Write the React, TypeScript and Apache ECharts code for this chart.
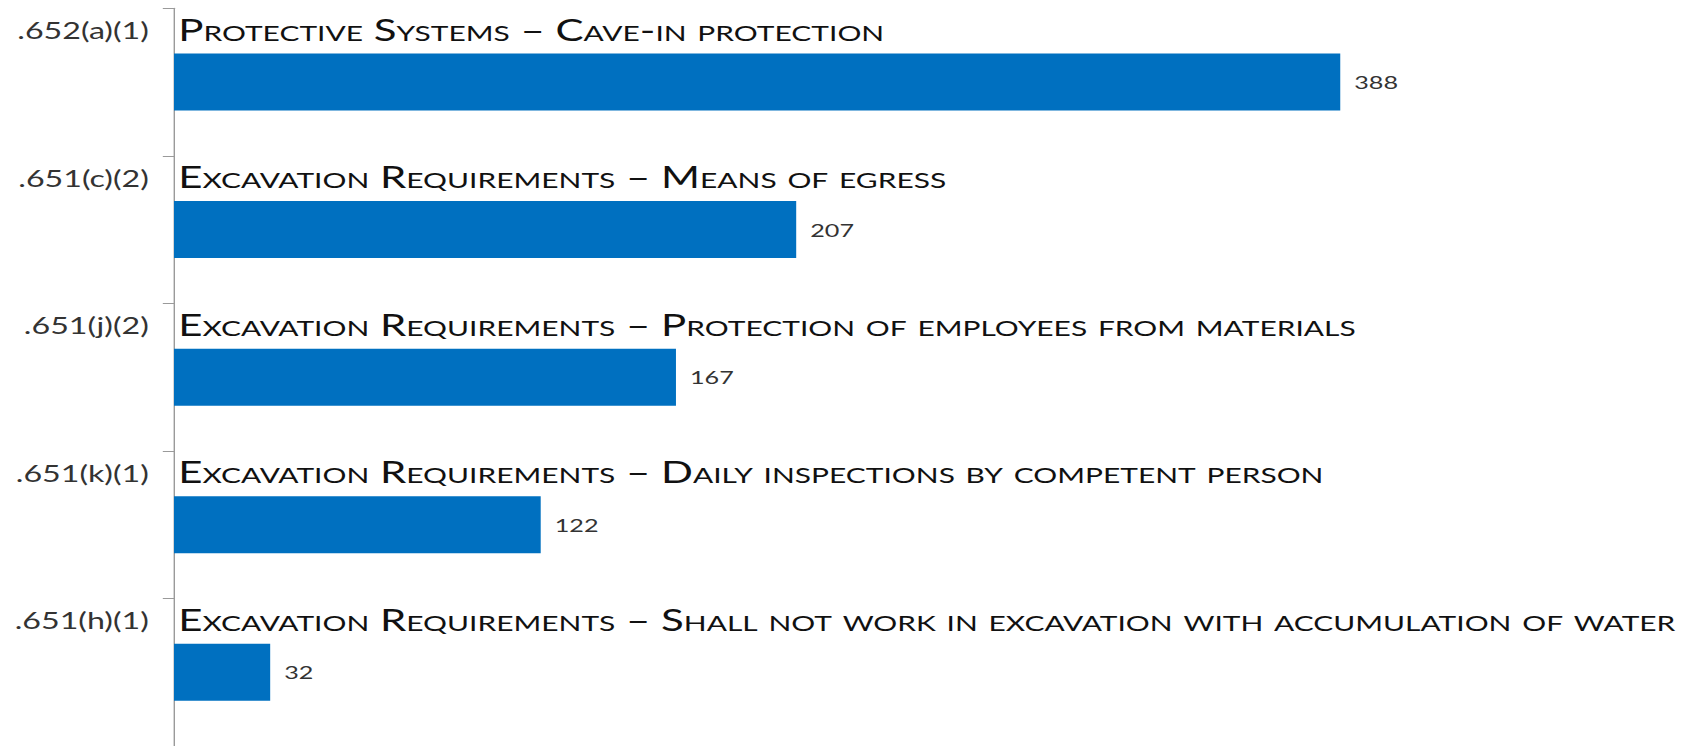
import React, { useEffect, useRef } from "react";
import * as echarts from "echarts";

const codes = [".652(a)(1)", ".651(c)(2)", ".651(j)(2)", ".651(k)(1)", ".651(h)(1)"];
const descriptions = [
  "Protective Systems \u2013 Cave-in protection",
  "Excavation Requirements \u2013 Means of egress",
  "Excavation Requirements \u2013 Protection of employees from materials",
  "Excavation Requirements \u2013 Daily inspections by competent person",
  "Excavation Requirements \u2013 Shall not work in excavation with accumulation of water",
];
const citations = [388, 207, 167, 122, 32];

const SX = 1.4;
const W = 1681 / SX;
const H = 746;

export default function App() {
  const ref = useRef<HTMLDivElement>(null);
  useEffect(() => {
    if (!ref.current) return;
    const chart = echarts.init(ref.current, undefined, { renderer: "svg" });
    const axisLeft = 174 / SX;
    const xMax = 500;
    const plotW = (xMax * 3.005) / SX;
    chart.setOption({
      animation: false,
      grid: { left: axisLeft, right: W - axisLeft - plotW, top: 8.3, bottom: -1.5, containLabel: false },
      xAxis: { type: "value", min: 0, max: xMax, show: false },
      yAxis: [
        {
          type: "category",
          data: codes,
          inverse: true,
          position: "left",
          axisLine: { show: true, lineStyle: { color: "#9a9a9a", width: 1 } },
          axisTick: { show: true, length: 8, lineStyle: { color: "#9a9a9a" } },
          axisLabel: {
            interval: 0,
            margin: 18,
            formatter: (v: string) => `{t|${v}}\n{g|}`,
            rich: {
              t: { color: "#333333", fontFamily: "Lato", fontSize: 23, lineHeight: 27 },
              g: { height: 104, lineHeight: 104 },
            },
          },
        },
        {
          type: "category",
          data: descriptions,
          inverse: true,
          position: "left",
          axisLine: { show: false },
          axisTick: { show: false },
          axisLabel: {
            inside: true,
            interval: 0,
            margin: 3,
            formatter: (v: string) => `{t|${v}}\n{g|}`,
            rich: {
              t: {
                color: "#111111",
                fontFamily: "Lato;font-variant:small-caps",
                fontSize: 30,
                lineHeight: 34,
              },
              g: { height: 106, lineHeight: 106 },
            },
          },
        },
      ],
      series: [
        {
          type: "bar",
          data: citations,
          yAxisIndex: 0,
          barWidth: 57,
          itemStyle: { color: "#0070C0" },
          label: {
            show: true,
            position: "right",
            distance: 10,
            color: "#333333",
            fontFamily: "Lato",
            fontSize: 18,
          },
        },
      ],
    });
    return () => chart.dispose();
  }, []);
  return (
    <div
      ref={ref}
      style={{
        position: "absolute",
        left: 0,
        top: 0,
        width: W,
        height: H,
        transform: `scaleX(${SX})`,
        transformOrigin: "0 0",
      }}
    />
  );
}
